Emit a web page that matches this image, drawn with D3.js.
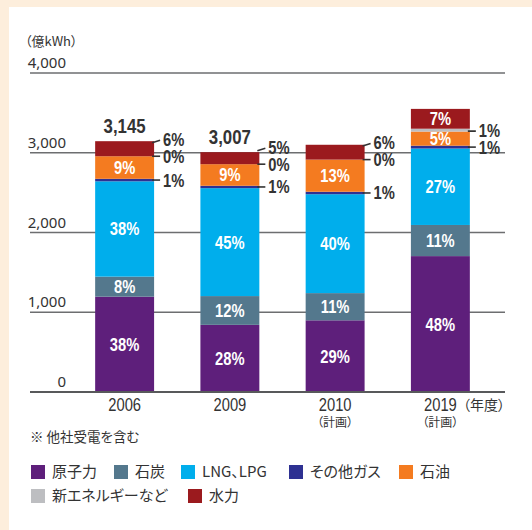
<!DOCTYPE html>
<html><head><meta charset="utf-8">
<script src="https://cdn.jsdelivr.net/npm/d3@7"></script>
<style>
body{margin:0;background:#fdeedc;}
svg{display:block;}
.jp{font-family:"Noto Sans CJK JP",sans-serif;font-feature-settings:"palt";}
.num{font-family:"Liberation Sans",Arial,sans-serif;}
</style></head><body>
<svg id="chart" width="532" height="530"></svg>
<script>
var years = ["2006", "2009", "2010", "2019"];
var yearNotes = ["", "", "（計画）", "（計画）"];
var totals = [3145, 3007, 3100, 3550];
var totalLabels = ["3,145", "3,007", "", ""];

var keys = ["nuclear", "coal", "lng", "otherGas", "oil", "newEnergy", "hydro"];
var names = ["原子力", "石炭", "LNG、LPG", "その他ガス", "石油", "新エネルギーなど", "水力"];
var colors = ["#5e1f7b", "#54788d", "#00aeec", "#2e3192", "#f47b20", "#bdbec1", "#9b1a1e"];

// share of each year's total (%)
var pctNuclear   = [38, 28, 29, 48];
var pctCoal      = [8, 12, 11, 11];
var pctLng       = [38, 45, 40, 27];
var pctOtherGas  = [1, 1, 1, 1];
var pctOil       = [9, 9, 13, 5];
var pctNewEnergy = [0, 0, 0, 1];
var pctHydro     = [6, 5, 6, 7];

// labels written beside the bar instead of inside
var outsideLabels = [
  ["otherGas", "newEnergy", "hydro"],
  ["otherGas", "newEnergy", "hydro"],
  ["otherGas", "newEnergy", "hydro"],
  ["otherGas", "newEnergy"]
];

var yTicks = [0, 1000, 2000, 3000, 4000];

var pcts = {
  nuclear: pctNuclear, coal: pctCoal, lng: pctLng, otherGas: pctOtherGas,
  oil: pctOil, newEnergy: pctNewEnergy, hydro: pctHydro
};

var rows = years.map(function(y, i){
  var r = {year: y, i: i};
  keys.forEach(function(k){ r[k] = pcts[k][i] * totals[i] / 100; });
  return r;
});

var svg = d3.select("#chart");

// condensed text: no narrow font installed, so squeeze Liberation Sans
function narrow(px, py){
  return "translate(" + px + "," + py + ") scale(0.82,1)";
}

svg.append("rect").attr("x", 9).attr("y", 7).attr("width", 523).attr("height", 523).attr("fill", "#fff");

var x = d3.scaleBand().domain(years).range([72, 493]).paddingInner(0.44).paddingOuter(0.22);
var y = d3.scaleLinear().domain([0, 4000]).range([392, 73]);

// grid
svg.selectAll(".grid").data(yTicks.slice(1)).enter().append("line")
  .attr("x1", 30).attr("x2", 505)
  .attr("y1", function(d){ return y(d); }).attr("y2", function(d){ return y(d); })
  .attr("stroke", "#6d6e70").attr("stroke-width", 1.3);

svg.selectAll(".tick").data(yTicks).enter().append("text")
  .attr("x", 66).attr("y", function(d){ return y(d) - 5; })
  .attr("text-anchor", "end").attr("font-family", "Noto Sans").attr("font-size", 15)
  .attr("fill", "#333").text(function(d){ return d3.format(",")(d); });

svg.append("text").attr("class", "jp").attr("x", 25).attr("y", 46)
  .attr("font-size", 13).attr("fill", "#333").text("（億kWh）");

var stack = d3.stack().keys(keys)(rows);

var layers = svg.selectAll(".layer").data(stack).enter().append("g")
  .attr("fill", function(d, i){ return colors[i]; });

layers.selectAll("rect").data(function(d){ return d; }).enter().append("rect")
  .attr("x", function(d){ return x(d.data.year); })
  .attr("width", x.bandwidth())
  .attr("y", function(d){ return y(d[1]); })
  .attr("height", function(d){ return y(d[0]) - y(d[1]); });

svg.append("line").attr("x1", 30).attr("x2", 505).attr("y1", 392).attr("y2", 392)
  .attr("stroke", "#58595b").attr("stroke-width", 2);

// labels inside bars
stack.forEach(function(layer, li){
  var key = keys[li];
  layer.forEach(function(d, i){
    if (outsideLabels[i].indexOf(key) >= 0) return;
    svg.append("text").attr("class", "num")
      .attr("transform", narrow(x(years[i]) + x.bandwidth() / 2, (y(d[0]) + y(d[1])) / 2))
      .attr("dy", "0.36em").attr("text-anchor", "middle")
      .attr("font-size", 18).attr("font-weight", "bold").attr("fill", "#fff")
      .text(pcts[key][i] + "%");
  });
});

// labels beside bars, pushed apart from the bottom up
years.forEach(function(yr, i){
  var right = x(yr) + x.bandwidth();
  var prev = Infinity;
  outsideLabels[i].forEach(function(key){
    var li = keys.indexOf(key);
    var d = stack[li][i];
    var mid = (y(d[0]) + y(d[1])) / 2;
    var ly = Math.min(mid, prev - 17);
    prev = ly;
    var sy = ly + Math.min(2.5, mid - ly);
    svg.append("line")
      .attr("x1", right - 2).attr("y1", ly === mid ? mid : sy + 1)
      .attr("x2", right + 6).attr("y2", ly === mid ? mid : ly + 1)
      .attr("stroke", "#333").attr("stroke-width", 1.6);
    svg.append("text").attr("class", "num")
      .attr("transform", narrow(right + 9, ly)).attr("dy", "0.36em")
      .attr("font-size", 18).attr("font-weight", "bold").attr("fill", "#333")
      .text(pcts[key][i] + "%");
  });
  if (totalLabels[i]) {
    svg.append("text").attr("class", "num")
      .attr("transform", narrow(x(yr) + x.bandwidth() / 2, y(totals[i]) - 8))
      .attr("text-anchor", "middle").attr("font-size", 20.5).attr("font-weight", "bold")
      .attr("fill", "#333").text(totalLabels[i]);
  }
});

// x axis labels
svg.selectAll(".xl").data(years).enter().append("text").attr("class", "num")
  .attr("transform", function(d){ return narrow(x(d) + x.bandwidth() / 2, 411); })
  .attr("text-anchor", "middle").attr("font-size", 18).attr("fill", "#333")
  .text(function(d){ return d; });

svg.selectAll(".xn").data(years).enter().append("text").attr("class", "jp")
  .attr("x", function(d){ return x(d) + x.bandwidth() / 2; }).attr("y", 427)
  .attr("text-anchor", "middle").attr("font-size", 12).attr("fill", "#333")
  .text(function(d, i){ return yearNotes[i]; });

svg.append("text").attr("class", "jp").attr("x", 505).attr("y", 410)
  .attr("text-anchor", "end").attr("font-size", 14).attr("fill", "#333").text("（年度）");

svg.append("text").attr("class", "jp").attr("x", 30).attr("y", 442)
  .attr("font-size", 13.5).attr("fill", "#333").text("※ 他社受電を含む");

// legend
var legendPos = [[31, 472], [114, 472], [181, 472], [289, 472], [399, 472], [31, 496], [188, 496]];
var lg = svg.selectAll(".lg").data(keys).enter().append("g")
  .attr("transform", function(d, i){ return "translate(" + legendPos[i][0] + "," + legendPos[i][1] + ")"; });
lg.append("rect").attr("x", 0).attr("y", -7).attr("width", 14).attr("height", 14)
  .attr("fill", function(d, i){ return colors[i]; });
lg.append("text").attr("class", "jp").attr("x", 21).attr("dy", "0.36em")
  .attr("font-size", 15).attr("fill", "#333").text(function(d, i){ return names[i]; });
</script>
</body></html>
